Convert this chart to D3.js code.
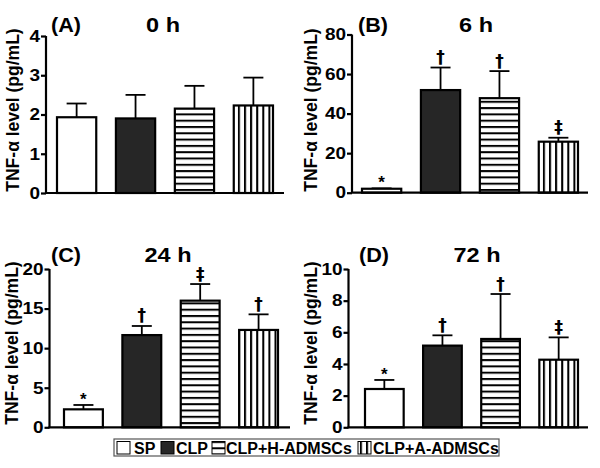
<!DOCTYPE html>
<html><head><meta charset="utf-8">
<script src="https://cdn.jsdelivr.net/npm/d3@7"></script>
<style>
html,body{margin:0;padding:0;background:#fff;}
svg text{font-family:"Liberation Sans",Arial,Helvetica,sans-serif;font-weight:bold;fill:#000;}
</style></head><body>
<svg id="c" width="600" height="468"></svg>
<script>
const categories = ["SP", "CLP", "CLP+H-ADMSCs", "CLP+A-ADMSCs"];
const panelLetters = ["(A)", "(B)", "(C)", "(D)"];
const panelTimes = ["0 h", "6 h", "24 h", "72 h"];
const yAxisTitle = "TNF-α level (pg/mL)";

const means0h  = [1.93, 1.90, 2.15, 2.23];
const sd0h     = [0.35, 0.60, 0.58, 0.71];
const means6h  = [2.0, 51.9, 47.8, 25.8];
const sd6h     = [0.2, 11.4, 13.7, 2.0];
const means24h = [2.27, 11.65, 16.0, 12.3];
const sd24h    = [0.55, 1.15, 2.1, 1.97];
const means72h = [2.42, 5.16, 5.58, 4.27];
const sd72h    = [0.57, 0.65, 2.84, 1.41];

const marks0h  = ["", "", "", ""];
const marks6h  = ["*", "†", "†", "‡"];
const marks24h = ["*", "†", "‡", "†"];
const marks72h = ["*", "†", "†", "‡"];

const ticks0h  = [0, 1, 2, 3, 4];
const ticks6h  = [0, 20, 40, 60, 80];
const ticks24h = [0, 5, 10, 15, 20];
const ticks72h = [0, 2, 4, 6, 8, 10];

const panelMeans = [means0h, means6h, means24h, means72h];
const panelSD = [sd0h, sd6h, sd24h, sd72h];
const panelMarks = [marks0h, marks6h, marks24h, marks72h];
const panelTicks = [ticks0h, ticks6h, ticks24h, ticks72h];

// layout (positions only)
const layouts = [
  {axisX: 46,  barL: 56,  barR: 274, axisEnd: 284, yTop: 36,  yBot: 193, labX: 19,  labY: 110, letX: 51,  titX: 163, titY: 32},
  {axisX: 352, barL: 361, barR: 579, axisEnd: 588, yTop: 34.5,yBot: 192.7, labX: 317, labY: 110, letX: 358, titX: 476, titY: 32},
  {axisX: 49.5,barL: 63,  barR: 279, axisEnd: 290, yTop: 269, yBot: 427.3, labX: 18,  labY: 343, letX: 51,  titX: 168, titY: 262},
  {axisX: 348.5,barL: 364,barR: 579, axisEnd: 588, yTop: 269, yBot: 427.3, labX: 317, labY: 343, letX: 359, titX: 477, titY: 262}
];

const svg = d3.select("#c");
const defs = svg.append("defs");
const ph = defs.append("pattern").attr("id","hstripe").attr("patternUnits","userSpaceOnUse")
  .attr("width",8).attr("height",6.3);
ph.append("rect").attr("width",8).attr("height",6.3).attr("fill","#fff");
ph.append("rect").attr("y",0).attr("width",8).attr("height",2).attr("fill","#000");
const pv = defs.append("pattern").attr("id","vstripe").attr("patternUnits","userSpaceOnUse")
  .attr("width",6.1).attr("height",8);
pv.append("rect").attr("width",6.1).attr("height",8).attr("fill","#fff");
pv.append("rect").attr("x",0).attr("width",2).attr("height",8).attr("fill","#000");

const fills = ["#ffffff", "#262626", "url(#hstripe)", "url(#vstripe)"];

layouts.forEach((L, p) => {
  const g = svg.append("g");
  const yMax = d3.max(panelTicks[p]);
  const y = d3.scaleLinear().domain([0, yMax]).range([L.yBot, L.yTop]);
  const x = d3.scaleBand().domain(categories).range([L.barL, L.barR]).paddingInner(0.3).paddingOuter(0);
  const data = categories.map((c, i) => ({c, i, m: panelMeans[p][i], sd: panelSD[p][i], mk: panelMarks[p][i]}));

  // error bars
  const eb = g.append("g");
  data.forEach(d => {
    const cx = x(d.c) + x.bandwidth()/2;
    eb.append("line").attr("x1",cx).attr("x2",cx).attr("y1",y(d.m)).attr("y2",y(d.m+d.sd))
      .attr("stroke","#000").attr("stroke-width",1.8);
    eb.append("line").attr("x1",cx-10).attr("x2",cx+10).attr("y1",y(d.m+d.sd)).attr("y2",y(d.m+d.sd))
      .attr("stroke","#000").attr("stroke-width",1.8);
  });

  // bars
  g.append("g").selectAll("rect").data(data).join("rect")
    .attr("x", d => x(d.c)+1).attr("width", x.bandwidth()-2)
    .attr("y", d => y(d.m)).attr("height", d => y(0) - y(d.m))
    .attr("fill", d => fills[d.i]).attr("stroke","#000").attr("stroke-width",2.2);

  // significance marks
  g.append("g").selectAll("text").data(data.filter(d => d.mk)).join("text")
    .attr("x", d => x(d.c) + x.bandwidth()/2)
    .attr("y", d => y(d.m + d.sd) - (d.mk === "*" ? 0 : 4.5))
    .attr("text-anchor","middle")
    .style("font-family", d => d.mk === "*" ? "Liberation Sans, Arial, sans-serif" : "DejaVu Sans, sans-serif")
    .attr("font-size", 17)
    .text(d => d.mk);

  // y axis
  const ya = g.append("g").attr("transform", `translate(${L.axisX},0)`)
    .call(d3.axisLeft(y).tickValues(panelTicks[p]).tickSize(5).tickPadding(1).tickFormat(d3.format("d")));
  ya.select(".domain").attr("stroke-width",2.2).attr("d", `M0,${L.yTop}V${L.yBot}`);
  ya.selectAll(".tick line").attr("stroke-width",2.2);
  ya.selectAll(".tick text").attr("font-size",16.5).attr("font-family","Liberation Sans, Arial, sans-serif")
    .attr("font-weight","bold").attr("fill","#000")
    .attr("x", null).attr("transform","translate(-6,0) scale(1.15,1)");

  // x axis baseline
  g.append("line").attr("x1", L.axisX-1).attr("x2", L.axisEnd).attr("y1", y(0)).attr("y2", y(0))
    .attr("stroke","#000").attr("stroke-width",2.2);

  // y title
  g.append("text").attr("transform", `translate(${L.labX},${L.labY}) rotate(-90)`)
    .attr("text-anchor","middle").attr("font-size",17.5).text(yAxisTitle);

  // panel letter & time
  g.append("text").attr("transform", `translate(${L.letX},${L.titY}) scale(1.08,1)`).attr("font-size",20).text(panelLetters[p]);
  g.append("text").attr("transform", `translate(${L.titX},${L.titY}) scale(1.12,1)`).attr("text-anchor","middle").attr("font-size",21).text(panelTimes[p]);
});

// legend
const lg = svg.append("g");
lg.append("rect").attr("x",114).attr("y",439).attr("width",385).attr("height",17)
  .attr("fill","#fff").attr("stroke","#555").attr("stroke-width",1.2);
const legItems = [
  {sx: 117, tx: 134},
  {sx: 161, tx: 176},
  {sx: 212, tx: 226},
  {sx: 358, tx: 373}
];
categories.forEach((c, i) => {
  const it = legItems[i];
  lg.append("rect").attr("x", it.sx).attr("y", 441.5).attr("width", 13).attr("height", 12.5)
    .attr("fill", fills[i]).attr("stroke", "#000").attr("stroke-width", 1);
  lg.append("text").attr("x", it.tx).attr("y", 453.5).attr("font-size", 16).text(c);
});
</script>
</body></html>
